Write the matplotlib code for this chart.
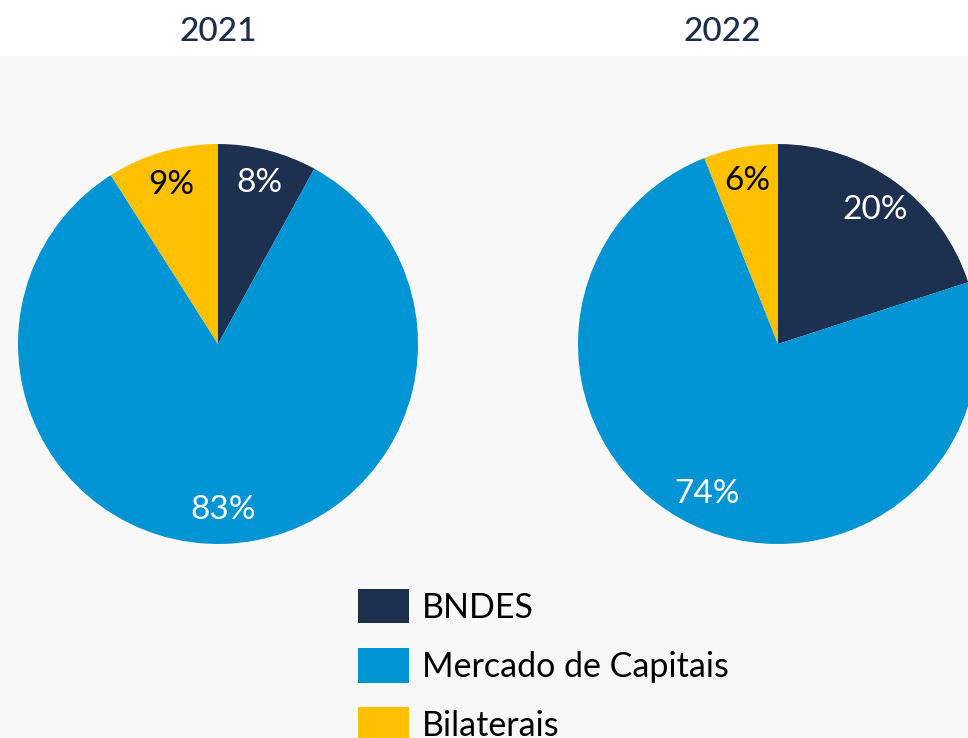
import matplotlib.pyplot as plt
from matplotlib.patches import Patch, Rectangle

# data
categories = ["BNDES", "Mercado de Capitais", "Bilaterais"]
years = ["2021", "2022"]
shares_2021 = [8, 83, 9]
shares_2022 = [20, 74, 6]
colors = ["#1e3050", "#0094d4", "#ffc000"]
label_colors = ["white", "white", "black"]

plt.rcParams['font.family'] = ['Lato', 'DejaVu Sans']

W, H = 968, 738
fig = plt.figure(figsize=(W / 100, H / 100), dpi=100)
fig.patch.set_facecolor("#f8f8f9")
# white band at top
fig.add_artist(Rectangle((0, 1 - 56 / H), 1, 56 / H, transform=fig.transFigure,
                         facecolor="white", edgecolor="none", zorder=0))


def draw_pie(cx, cy, r, values, title, title_x):
    ax = fig.add_axes([(cx - r) / W, 1 - (cy + r) / H, 2 * r / W, 2 * r / H])
    wedges, texts, autotexts = ax.pie(
        values, colors=colors, startangle=90, counterclock=False,
        autopct='%d%%', pctdistance=0.83, radius=1,
        wedgeprops=dict(linewidth=0),
        textprops=dict(fontsize=24))
    for t, c in zip(autotexts, label_colors):
        t.set_color(c)
    ax.set_xlim(-1, 1)
    ax.set_ylim(-1, 1)
    ax.set_aspect('equal')
    ax.axis('off')
    fig.text(title_x / W, 1 - 32 / H, title, ha='center', va='center',
             fontsize=24, color="#1e2d4a", fontweight='medium')


draw_pie(218, 344, 200, shares_2021, years[0], 218)
draw_pie(778, 344, 200, shares_2022, years[1], 722)

handles = [Patch(facecolor=c, edgecolor='none') for c in colors]
fig.legend(handles, categories, loc='upper left',
           bbox_to_anchor=(344 / W, 1 - 575 / H), frameon=False,
           fontsize=24.5, handlelength=1.5, handleheight=1.2,
           handletextpad=0.4, labelspacing=0.72, borderaxespad=0)

fig.savefig("out.png", dpi=100, facecolor=fig.get_facecolor())
